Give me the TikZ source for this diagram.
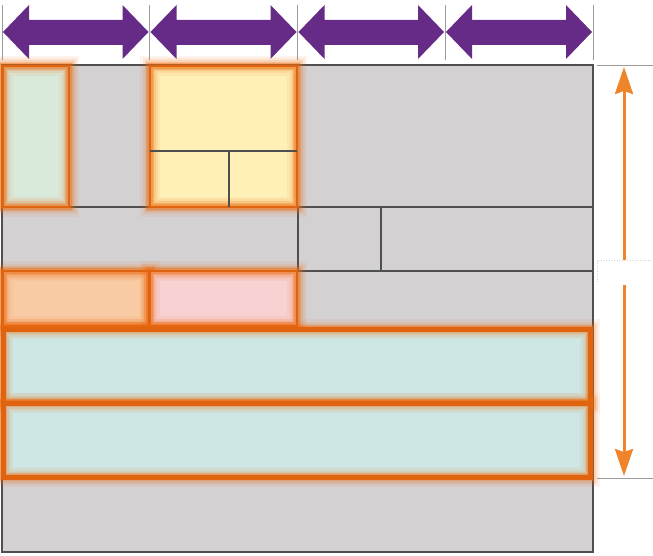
\documentclass[tikz,border=0pt]{standalone}
\usetikzlibrary{arrows.meta}
\definecolor{gfill}{HTML}{D3D1D2}
\definecolor{gline}{HTML}{4F4F4F}
\definecolor{tick}{HTML}{9A9A9A}
\definecolor{purp}{HTML}{652B87}
\definecolor{oarrow}{HTML}{F0842A}
\definecolor{oglow}{HTML}{EE6A0E}
\definecolor{obord}{HTML}{E06410}
\definecolor{cgreen}{HTML}{D9EADA}
\definecolor{cyellow}{HTML}{FFF0B8}
\definecolor{cpeach}{HTML}{F9CBA4}
\definecolor{cpink}{HTML}{F8D1D3}
\definecolor{cteal}{HTML}{CDE7E5}
\tikzset{
  gridline/.style={draw=gline, line width=2pt},
  tickline/.style={draw=tick, line width=0.8pt},
  purparrow/.style={fill=purp},
  oarr/.style={draw=oarrow, line width=3pt, -{Stealth[width=18pt,length=27pt,inset=3pt]}},
}
\newcommand\glowbox[6]{%
  \fill[#5] (#1,#2) rectangle (#3,#4);
  \foreach \w/\o in {20/0.07,15/0.10,11/0.16,8/0.24,6/0.3}{%
    \draw[oglow, line width=\w pt, opacity=\o] (#1,#2) rectangle (#3,#4);}
  \draw[obord, line width=#6pt] (#1,#2) rectangle (#3,#4);
}
\newcommand\dblarrow[2]{%
  \fill[purparrow] (#1,32) -- (#1+26,5) -- (#1+26,20) -- (#2-26,20) -- (#2-26,5)
    -- (#2,32) -- (#2-26,59) -- (#2-26,45) -- (#1+26,45) -- (#1+26,59) -- cycle;
}
\begin{document}
\begin{tikzpicture}[x=1pt,y=-1pt]
\useasboundingbox (0,0) rectangle (653,556);
% top ticks
\foreach \x in {2,149.5,297.5,445,593}{\draw[tickline] (\x,5) -- (\x,60);}
% purple double arrows
\dblarrow{3}{148.5}
\dblarrow{150.5}{296.5}
\dblarrow{298.5}{444}
\dblarrow{446}{592}
% main grey area
\fill[gfill] (2,65) rectangle (593,552);
\draw[gridline] (2,207) -- (593,207);
\draw[gridline] (2,271) -- (593,271);
\draw[gridline] (297.5,207) -- (297.5,271);
\draw[gridline] (381,207) -- (381,271);
\draw[gridline] (2,65) rectangle (593,552);
% highlighted boxes
\glowbox{2.5}{66}{69}{207}{cgreen}{2.2}
\glowbox{150}{66}{297}{207}{cyellow}{2.8}
\draw[gridline] (150,151) -- (297,151);
\draw[gridline] (229,151) -- (229,207);
\glowbox{2.5}{271}{149.5}{326}{cpeach}{2.8}
\glowbox{149.5}{271}{297}{326}{cpink}{2.8}
\glowbox{3}{329}{590}{403}{cteal}{5}
\glowbox{3}{403}{590}{477}{cteal}{5}
% right dimension
\draw[tickline] (597,65.5) -- (653,65.5);
\draw[tickline] (597,478.5) -- (653,478.5);
\draw[gray!35, dotted, line width=0.6pt] (597,282) -- (597,260) -- (653,260);
\coordinate (upS) at (624,260);
\coordinate (upE) at (624,67);
\coordinate (dnS) at (624,285);
\coordinate (dnE) at (624,476);
\draw[oarr] (upS) -- (upE);
\draw[oarr] (dnS) -- (dnE);
\end{tikzpicture}
\end{document}
